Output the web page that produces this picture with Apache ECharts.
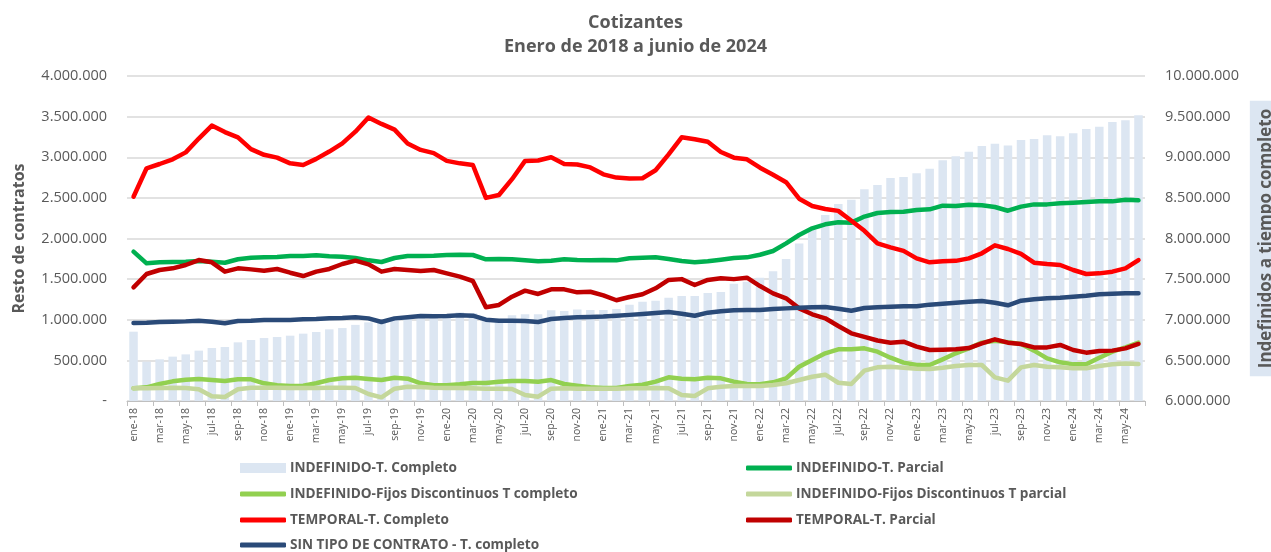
<!DOCTYPE html>
<html>
<head>
<meta charset="utf-8">
<script src="https://cdn.jsdelivr.net/npm/echarts@6/dist/echarts.min.js"></script>
<style>html,body{margin:0;padding:0;background:#fff}#c{width:1271px;height:552px}</style>
</head>
<body>
<div id="c"></div>
<script>
// ---- DATA (values in thousands) ----
const categories = [
 'ene-18','feb-18','mar-18','abr-18','may-18','jun-18','jul-18','ago-18','sep-18','oct-18','nov-18','dic-18',
 'ene-19','feb-19','mar-19','abr-19','may-19','jun-19','jul-19','ago-19','sep-19','oct-19','nov-19','dic-19',
 'ene-20','feb-20','mar-20','abr-20','may-20','jun-20','jul-20','ago-20','sep-20','oct-20','nov-20','dic-20',
 'ene-21','feb-21','mar-21','abr-21','may-21','jun-21','jul-21','ago-21','sep-21','oct-21','nov-21','dic-21',
 'ene-22','feb-22','mar-22','abr-22','may-22','jun-22','jul-22','ago-22','sep-22','oct-22','nov-22','dic-22',
 'ene-23','feb-23','mar-23','abr-23','may-23','jun-23','jul-23','ago-23','sep-23','oct-23','nov-23','dic-23',
 'ene-24','feb-24','mar-24','abr-24','may-24','jun-24'];

const indefCompleto = [6853,6484,6513,6546,6574,6620,6652,6665,6722,6751,6775,6788,
 6804,6829,6849,6882,6898,6937,6968,6997,7010,7046,7059,7065,
 7068,7090,7080,7000,7010,7054,7068,7067,7116,7108,7126,7120,
 7120,7132,7185,7222,7235,7272,7292,7292,7330,7342,7444,7469,
 7518,7596,7748,7940,8105,8289,8425,8478,8605,8658,8745,8757,
 8802,8860,8962,9011,9069,9138,9167,9146,9212,9225,9270,9258,
 9295,9348,9376,9434,9454,9516];

const indefParcial = [1838,1694,1707,1711,1715,1723,1715,1702,1744,1764,1768,1772,
 1785,1785,1793,1781,1776,1760,1731,1711,1760,1785,1785,1789,
 1797,1800,1797,1744,1748,1744,1731,1720,1727,1744,1735,1731,
 1735,1731,1758,1764,1768,1748,1723,1707,1720,1739,1760,1768,
 1800,1846,1940,2043,2125,2175,2200,2195,2270,2314,2326,2330,
 2351,2359,2404,2400,2416,2408,2388,2342,2392,2420,2420,2433,
 2441,2449,2457,2457,2478,2470];

const fijosCompleto = [156,168,209,242,262,271,258,246,267,267,218,193,
 185,189,218,258,279,287,271,258,287,275,218,193,
 193,205,222,222,238,246,246,238,258,209,189,168,
 160,160,185,200,238,291,275,267,287,279,238,209,
 205,230,279,422,505,587,636,636,648,607,533,472,
 443,443,513,587,648,718,742,722,702,620,525,476,
 451,451,533,607,660,718];

const fijosParcial = [156,156,160,164,160,144,58,50,144,164,164,164,
 160,160,160,164,164,160,86,45,152,176,172,164,
 160,160,156,152,152,148,74,53,152,156,152,152,
 152,152,156,156,160,156,74,62,156,176,185,185,
 185,197,218,258,299,324,225,209,373,414,422,410,
 398,394,410,431,443,443,291,250,414,443,422,414,
 402,402,431,451,463,455];

const tempCompleto = [2514,2864,2917,2975,3060,3230,3390,3310,3245,3100,3030,2995,
 2925,2905,2980,3070,3170,3315,3490,3410,3340,3170,3090,3050,
 2955,2925,2905,2500,2535,2730,2955,2960,3000,2917,2910,2875,
 2790,2750,2738,2742,2840,3035,3245,3222,3190,3065,2995,2975,
 2872,2785,2693,2490,2400,2363,2340,2218,2095,1940,1890,1848,
 1755,1707,1720,1725,1755,1818,1916,1871,1810,1702,1686,1674,
 1612,1563,1571,1592,1633,1735];

const tempParcial = [1399,1563,1612,1633,1674,1735,1707,1592,1633,1620,1604,1625,
 1579,1538,1592,1625,1686,1727,1682,1592,1625,1612,1600,1612,
 1571,1530,1477,1153,1182,1284,1358,1317,1374,1374,1337,1345,
 1300,1240,1280,1313,1387,1490,1500,1428,1490,1510,1500,1518,
 1415,1325,1264,1140,1067,1018,923,833,790,745,718,730,
 669,628,632,636,652,710,759,718,702,660,660,690,
 628,595,615,620,648,702];

const sinTipo = [960,964,972,976,980,988,976,956,985,988,997,997,
 997,1005,1009,1017,1021,1030,1017,972,1017,1030,1046,1042,
 1046,1054,1050,1001,988,988,985,972,1009,1021,1030,1034,
 1040,1050,1060,1071,1083,1095,1075,1050,1087,1104,1116,1120,
 1120,1132,1140,1148,1153,1157,1136,1111,1145,1155,1161,1165,
 1165,1186,1198,1210,1222,1231,1210,1178,1235,1252,1264,1272,
 1284,1296,1313,1321,1325,1325];

const seriesNames = ['INDEFINIDO-T. Completo','INDEFINIDO-T. Parcial','INDEFINIDO-Fijos Discontinuos T completo',
 'INDEFINIDO-Fijos Discontinuos T parcial','TEMPORAL-T. Completo','TEMPORAL-T. Parcial','SIN TIPO DE CONTRATO - T. completo'];

// ---- CHART ----
const toUnits = a => a.map(v => v * 1000);
const fmt = v => v === 0 ? '-' : String(v).replace(/\B(?=(\d{3})+(?!\d))/g, '.');
const txt = '#595959';
const FONT = '"Open Sans", "DejaVu Sans", sans-serif';
const colors = ['#dce6f2','#00b050','#92d050','#c4d79b','#ff0000','#c00000','#2a4a78'];
const lineData = [indefParcial, fijosCompleto, fijosParcial, tempCompleto, tempParcial, sinTipo];

const series = [{
  name: seriesNames[0], type: 'bar', yAxisIndex: 1, data: toUnits(indefCompleto),
  barWidth: 8.5, itemStyle: {color: colors[0]}, silent: true
}];
lineData.forEach((d, k) => {
  series.push({
    name: seriesNames[k+1], type: 'line', yAxisIndex: 0, data: toUnits(d),
    symbol: 'none', smooth: false, silent: true,
    lineStyle: {color: colors[k+1], width: 4.5, cap: 'round', join: 'round'},
    itemStyle: {color: colors[k+1]}
  });
});

const legendPos = [[240,468],[746,468],[240,494],[746,494],[240,520],[746,520],[240,545]];
const legends = seriesNames.map((n, k) => ({
  data: [{name: n, icon: k === 0 ? 'rect' : 'roundRect'}],
  left: legendPos[k][0], top: legendPos[k][1] - 7, padding: 0,
  itemWidth: 46, itemHeight: k === 0 ? 10 : 5, itemGap: 0,
  selectedMode: false,
  textStyle: {color: txt, fontFamily: FONT, fontWeight: 'bold', fontSize: 13.6, padding: [0,0,0,-1]}
}));

const chart = echarts.init(document.getElementById('c'), null, {renderer: 'canvas'});
chart.setOption({
  animation: false,
  backgroundColor: '#fff',
  title: {
    text: 'Cotizantes\nEnero de 2018 a junio de 2024', left: 'center', top: 11, padding: 0,
    textStyle: {color: txt, fontFamily: FONT, fontWeight: 'bold', fontSize: 18, lineHeight: 24}
  },
  legend: legends,
  grid: {left: 127, right: 126, top: 76, bottom: 151, containLabel: false, outerBoundsMode: 'none'},
  xAxis: {
    type: 'category', data: categories, boundaryGap: true,
    axisLine: {lineStyle: {color: '#bfbfbf', width: 1}},
    axisTick: {show: true, interval: 1, length: 5, lineStyle: {color: '#bfbfbf'}},
    axisLabel: {interval: 1, rotate: 90, margin: 7, color: txt, fontFamily: FONT, fontSize: 10.5}
  },
  yAxis: [{
    type: 'value', min: 0, max: 4000000, interval: 500000, position: 'left',
    name: 'Resto de contratos', nameLocation: 'middle', nameRotate: 90, nameGap: 100,
    nameTextStyle: {color: txt, fontFamily: FONT, fontWeight: 'bold', fontSize: 16},
    axisLine: {show: false}, axisTick: {show: false},
    axisLabel: {formatter: fmt, color: txt, fontFamily: FONT, fontSize: 14.5, margin: 20},
    splitLine: {lineStyle: {color: '#d9d9d9', width: 1.5}}
  }, {
    type: 'value', min: 6000000, max: 10000000, interval: 500000, position: 'right',
    name: 'Indefinidos a tiempo completo', nameLocation: 'middle', nameRotate: 90, nameGap: 90,
    nameTextStyle: {color: txt, fontFamily: FONT, fontWeight: 'bold', fontSize: 17,
      backgroundColor: '#dce6f2', padding: [5, 8], lineHeight: 22},
    axisLine: {show: false}, axisTick: {show: false},
    axisLabel: {formatter: fmt, color: txt, fontFamily: FONT, fontSize: 14.5, margin: 20},
    splitLine: {show: false}
  }],
  series: series
});
</script>
</body>
</html>
